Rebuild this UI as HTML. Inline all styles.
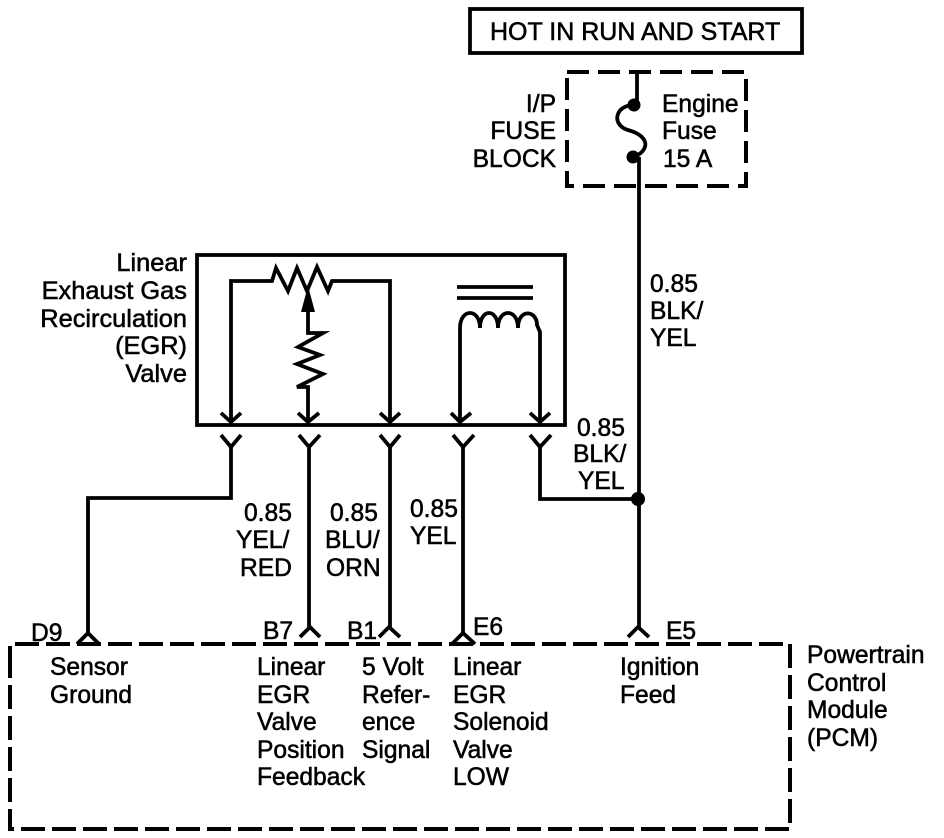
<!DOCTYPE html>
<html><head><meta charset="utf-8"><style>
html,body{margin:0;padding:0;background:#fff;width:944px;height:838px;overflow:hidden}
svg{display:block}
text{font-family:"Liberation Sans",sans-serif;font-size:24.6px;fill:#000;stroke:#000;stroke-width:.55px}
.big{font-size:25.4px}
.w{fill:none;stroke:#000;stroke-width:3.8;stroke-linejoin:miter}
.d{fill:none;stroke:#000;stroke-width:4}
</style></head><body>
<svg width="944" height="838" viewBox="0 0 944 838" xmlns="http://www.w3.org/2000/svg">
<rect x="470" y="9" width="332" height="44" class="w"/>
<text x="490" y="40" style="font-size:25px">HOT IN RUN AND START</text>

<rect x="567" y="72" width="179" height="114" class="d" stroke-dasharray="22 9"/>
<path class="w" d="M637 72V105"/>
<path class="w" d="M634 105C615 105 611 125 628 130C650 136 650 150 634 157"/>
<circle cx="634" cy="105" r="6.5"/><circle cx="633" cy="157" r="6.5"/>
<path class="w" d="M639 157V627"/>
<text x="556" y="112" text-anchor="end">I/P</text>
<text x="556" y="139" text-anchor="end">FUSE</text>
<text x="556" y="167" text-anchor="end">BLOCK</text>
<text x="662" y="112">Engine</text>
<text x="662" y="139">Fuse</text>
<text x="663" y="167">15 A</text>

<rect x="197" y="255" width="368" height="170" class="w"/>
<path class="w" d="M231 422V281H272L276 268L288 291L297 268L307 291L317 267L328 291L332 281H390V422"/>
<path d="M308 286L315 312H301Z"/>
<path class="w" d="M308 310V333H323L298 347L320 355L297 364L323 374L297 387H308V422"/>
<path class="w" d="M457 287H533M457 298H533"/>
<path class="w" d="M460 422V328C460 308 480 308 480 328C480 308 498 308 498 328C498 308 518 308 518 328C518 308 537 310 537 325L540 332V422"/>
<path class="w" d="M221 413L231 422L241 413M298 413L308 422L319 413M380 413L390 422L400 413M451 413L460 422L471 413M530 413L540 422L550 413"/>

<text class="big" x="187" y="271" text-anchor="end">Linear</text>
<text class="big" x="187" y="299" text-anchor="end">Exhaust Gas</text>
<text class="big" x="187" y="327" text-anchor="end">Recirculation</text>
<text class="big" x="187" y="354" text-anchor="end">(EGR)</text>
<text class="big" x="187" y="382" text-anchor="end">Valve</text>

<path class="w" d="M221 435L231 447L241 435M299 435L309 447L320 435M380 435L390 447L400 435M453 435L463 447L474 435M530 435L540 447L551 435"/>
<path class="w" d="M231 447V498H88V633"/>
<path class="w" d="M309 447V627"/>
<path class="w" d="M390 447V627"/>
<path class="w" d="M463 447V633"/>
<path class="w" d="M540 447V499H638"/>
<circle cx="638" cy="499" r="7"/>

<text x="650" y="292">0.85</text>
<text x="650" y="319">BLK/</text>
<text x="650" y="346">YEL</text>
<text x="577" y="436">0.85</text>
<text x="573" y="462">BLK/</text>
<text x="578" y="489">YEL</text>
<text x="244" y="521">0.85</text>
<text x="236" y="548">YEL/</text>
<text x="240" y="576">RED</text>
<text x="330" y="521">0.85</text>
<text x="325" y="548">BLU/</text>
<text x="326" y="576">ORN</text>
<text x="410" y="517">0.85</text>
<text x="410" y="544">YEL</text>

<path class="d" d="M10 670V644H790V829H10V670" stroke-dasharray="24 7"/>
<path class="w" d="M77 644L88 633L99 644M300 637L310 627L320 637M379 637L389 627L400 637M452 644L463 633L475 644M628 637L638 627L649 637"/>
<text x="31" y="641">D9</text>
<text x="263" y="639">B7</text>
<text x="347" y="639">B1</text>
<text x="473" y="635">E6</text>
<text x="666" y="639">E5</text>

<text x="50" y="675">Sensor</text>
<text x="50" y="703">Ground</text>
<text x="257" y="675">Linear</text>
<text x="257" y="703">EGR</text>
<text x="257" y="730">Valve</text>
<text x="257" y="758">Position</text>
<text x="257" y="785">Feedback</text>
<text x="362" y="675">5 Volt</text>
<text x="362" y="703">Refer-</text>
<text x="362" y="730">ence</text>
<text x="362" y="758">Signal</text>
<text x="453" y="675">Linear</text>
<text x="453" y="703">EGR</text>
<text x="453" y="730">Solenoid</text>
<text x="453" y="758">Valve</text>
<text x="453" y="785">LOW</text>
<text x="620" y="675">Ignition</text>
<text x="620" y="703">Feed</text>
<text x="807" y="663">Powertrain</text>
<text x="807" y="691">Control</text>
<text x="807" y="718">Module</text>
<text x="807" y="746">(PCM)</text>
</svg>
</body></html>
